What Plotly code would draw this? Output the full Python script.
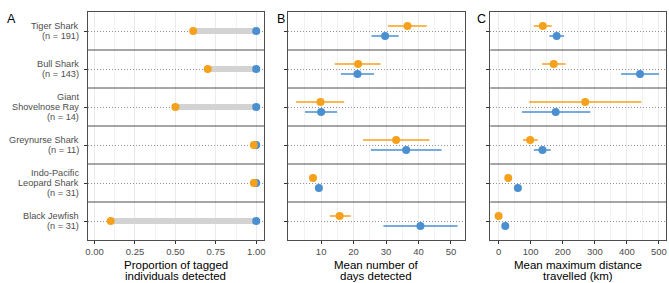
import plotly.graph_objects as go

species = [["Tiger Shark", "(n = 191)"], ["Bull Shark", "(n = 143)"], ["Giant", "Shovelnose Ray", "(n = 14)"],
           ["Greynurse Shark", "(n = 11)"], ["Indo-Pacific", "Leopard Shark", "(n = 31)"], ["Black Jewfish", "(n = 31)"]]

prop_orange = [0.61, 0.70, 0.50, 0.985, 0.985, 0.10]
prop_blue = [1.0, 1.0, 1.0, 1.0, 1.0, 1.0]

days_orange = [36.6, 21.4, 9.8, 33.1, 7.5, 15.7]
days_orange_lo = [30.6, 14.2, 2.3, 22.9, 7.5, 12.7]
days_orange_hi = [42.5, 28.3, 17.1, 43.4, 7.5, 19.1]
days_blue = [29.7, 21.2, 10.0, 36.2, 9.3, 40.6]
days_blue_lo = [25.5, 16.1, 5.0, 25.3, 9.3, 29.2]
days_blue_hi = [33.9, 26.3, 14.9, 47.1, 9.3, 52.0]

dist_orange = [137.7, 171.8, 270.0, 98.3, 30.0, 0.0]
dist_orange_lo = [109.7, 135.6, 95.0, 75.6, 30.0, 0.0]
dist_orange_hi = [165.6, 209.0, 445.0, 122.0, 30.0, 0.0]
dist_blue = [181.0, 441.0, 178.0, 136.6, 60.0, 20.7]
dist_blue_lo = [158.0, 382.0, 72.5, 110.0, 60.0, 20.7]
dist_blue_hi = [204.0, 500.0, 286.0, 162.5, 60.0, 20.7]

ORANGE = "#F6A11B"
BLUE = "#4A8FCF"
FONT = "Liberation Sans"
W, H = 669, 283
MT, MB = 12, 43
DODGE = 0.13

idx = list(range(len(species)))
plot_h = H - MT - MB
row_px = plot_h / len(species)

fig = go.Figure()

# Panel A: grey segments
seg_x, seg_y = [], []
for i in idx:
    seg_x += [prop_orange[i], prop_blue[i], None]
    seg_y += [i, i, None]
fig.add_trace(go.Scatter(x=seg_x, y=seg_y, mode="lines", line=dict(color="#D3D3D3", width=6),
                         xaxis="x", yaxis="y", showlegend=False, hoverinfo="skip"))
fig.add_trace(go.Scatter(x=prop_blue, y=idx, mode="markers", marker=dict(color=BLUE, size=8),
                         xaxis="x", yaxis="y", showlegend=False))
fig.add_trace(go.Scatter(x=prop_orange, y=idx, mode="markers", marker=dict(color=ORANGE, size=8),
                         xaxis="x", yaxis="y", showlegend=False))


def add_dodged(vals, lo, hi, color, offset, xa, ya):
    fig.add_trace(go.Scatter(
        x=vals, y=[i + offset for i in idx], mode="markers",
        marker=dict(color=color, size=8),
        error_x=dict(type="data", symmetric=False,
                     array=[h - v for h, v in zip(hi, vals)],
                     arrayminus=[v - l for v, l in zip(vals, lo)],
                     color=color, thickness=1.5, width=0),
        xaxis=xa, yaxis=ya, showlegend=False))


add_dodged(days_orange, days_orange_lo, days_orange_hi, ORANGE, -DODGE, "x2", "y2")
add_dodged(days_blue, days_blue_lo, days_blue_hi, BLUE, DODGE, "x2", "y2")
add_dodged(dist_orange, dist_orange_lo, dist_orange_hi, ORANGE, -DODGE, "x3", "y3")
add_dodged(dist_blue, dist_blue_lo, dist_blue_hi, BLUE, DODGE, "x3", "y3")

doms = [(86 / W, 263.5 / W), (287 / W, 465 / W), (490.5 / W, 667 / W)]
xranges = [[-0.043, 1.05], [-0.3, 54.3], [-26, 522]]
xticks = [([0, 0.25, 0.5, 0.75, 1.0], ["0.00", "0.25", "0.50", "0.75", "1.00"], 0.125),
          ([10, 20, 30, 40, 50], ["10", "20", "30", "40", "50"], 5),
          ([0, 100, 200, 300, 400, 500], ["0", "100", "200", "300", "400", "500"], 50)]
titles = [["Proportion of tagged", "individuals detected"], ["Mean number of", "days detected"],
          ["Mean maximum distance", "travelled (km)"]]

layout = dict(width=W, height=H, margin=dict(l=0, r=0, t=MT, b=MB),
              paper_bgcolor="white", plot_bgcolor="white",
              font=dict(family=FONT, size=10, color="#4D4D4D"), hovermode=False)

for k in range(3):
    sx = "" if k == 0 else str(k + 1)
    tv, tt, mdt = xticks[k]
    layout["xaxis" + sx] = dict(
        domain=list(doms[k]), range=xranges[k], anchor="y" + sx,
        tickvals=tv, ticktext=tt, ticks="outside", ticklen=3, tickcolor="#333333",
        tickfont=dict(size=9.5, color="#4D4D4D"),
        showgrid=True, gridcolor="#EBEBEB", gridwidth=1,
        minor=dict(dtick=mdt, tick0=0, showgrid=True, gridcolor="#F2F2F2", gridwidth=0.8),
        showline=True, linecolor="#4D4D4D", linewidth=1, mirror=True, zeroline=False)
    layout["yaxis" + sx] = dict(
        domain=[0, 1], range=[5.5, -0.5], anchor="x" + sx,
        tickvals=idx, showticklabels=False,
        ticks="outside", ticklen=3, tickcolor="#333333",
        showgrid=True, gridcolor="#8F8F8F", gridwidth=0.7, griddash="1px,2px",
        showline=True, linecolor="#4D4D4D", linewidth=1, mirror=True, zeroline=False)

fig.update_layout(**layout)

shapes = []
for k in range(3):
    sx = "" if k == 0 else str(k + 1)
    for b in range(len(species) - 1):
        shapes.append(dict(type="line", xref="x" + sx + " domain", yref="y" + sx,
                           x0=0, x1=1, y0=b + 0.5, y1=b + 0.5,
                           line=dict(color="#4D4D4D", width=1)))
fig.update_layout(shapes=shapes)

annotations = []
# Species labels (multi-line, tight line spacing)
LINE_PX = 10.3
for i, lines in enumerate(species):
    n = len(lines)
    for j, txt in enumerate(lines):
        off = (j - (n - 1) / 2) * LINE_PX / row_px
        annotations.append(dict(text=txt, x=79 / W, y=i + off, xref="paper", yref="y",
                                xanchor="right", yanchor="middle", showarrow=False,
                                font=dict(family=FONT, size=9.2, color="#4D4D4D")))

for k, letter in enumerate(["A", "B", "C"]):
    lx = [3, 274, 475][k]
    annotations.append(dict(text=letter, x=lx / W, y=(plot_h + 2) / plot_h, xref="paper", yref="paper",
                            xanchor="left", yanchor="top", showarrow=False,
                            font=dict(family=FONT, size=12.5, color="black")))
    for j, txt in enumerate(titles[k]):
        annotations.append(dict(text=txt, x=(doms[k][0] + doms[k][1]) / 2, y=-(24.5 + 11.5 * j) / plot_h,
                                xref="paper", yref="paper", xanchor="center", yanchor="middle",
                                showarrow=False, borderpad=0,
                                font=dict(family=FONT, size=11.5, color="black")))
fig.update_layout(annotations=annotations)

fig.write_html("out.html", config={"displayModeBar": False},
               post_script="document.body.style.margin='0';document.body.style.padding='0';")
